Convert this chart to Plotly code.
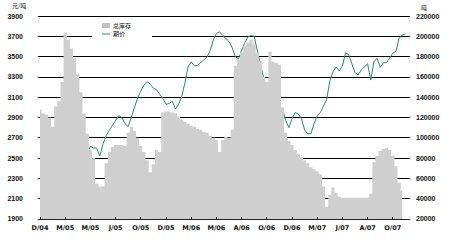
import plotly.graph_objects as go

# Weekly index positions and x tick labels
tick_labels = ["D/04", "M/05", "M/05", "J/05", "O/05", "D/05", "M/06", "M/06",
               "A/06", "O/06", "D/06", "M/07", "J/07", "A/07", "O/07"]
tick_step = 8
left_ticks = [1900, 2100, 2300, 2500, 2700, 2900, 3100, 3300, 3500, 3700, 3900]
right_ticks = [20000, 40000, 60000, 80000, 100000, 120000, 140000, 160000,
               180000, 200000, 220000]

# Futures price (元/吨), left axis
price = [2150, 2165, 2140, 2100, 2075, 2035, 2015, 2018, 2025, 2035,
         2068, 2120, 2180, 2290, 2415, 2550, 2615, 2600, 2600, 2520,
         2640, 2720, 2775, 2825, 2880, 2920, 2900, 2840, 2810, 2900,
         3010, 3095, 3160, 3220, 3255, 3230, 3190, 3175, 3130, 3090,
         3030, 3040, 3060, 2985, 3030, 3110, 3240, 3400, 3450, 3410,
         3415, 3440, 3465, 3495, 3560, 3665, 3730, 3745, 3710, 3682,
         3650, 3590, 3500, 3480, 3555, 3640, 3695, 3710, 3700, 3550,
         3420, 3295, 3170, 3040, 2950, 3000, 2990, 2990, 2870, 2800,
         2890, 2950, 2935, 2890, 2780, 2740, 2740, 2840, 2915, 2950,
         3015, 3075, 3260, 3350, 3400, 3360, 3410, 3540, 3520, 3440,
         3343, 3320, 3370, 3400, 3430, 3270, 3450, 3485, 3395, 3440,
         3442, 3485, 3535, 3555, 3680, 3715, 3722]

# Total inventory (吨), right axis, in thousands of tons
stock_k = [128, 124, 123, 120, 111, 131, 136, 155, 204, 197,
           188, 178, 163, 145, 124, 104, 88, 80, 55, 52,
           52, 75, 86, 91, 93, 93, 93, 92, 105, 111,
           107, 100, 92, 86, 78, 66, 74, 88, 86, 125,
           126, 126, 125, 124, 121, 118, 116, 114, 112, 111,
           109, 108, 106, 105, 102, 100, 98, 86, 98, 101,
           100, 108, 171, 177, 184, 190, 194, 197, 192, 183,
           176, 160, 155, 185, 175, 174, 172, 130, 105, 97,
           93, 88, 84, 81, 78, 75, 71, 69, 67, 64,
           52, 32, 44, 51, 46, 42, 41, 41, 41, 41,
           41, 41, 41, 41, 41, 45, 76, 82, 87, 89,
           90, 88, 82, 72, 56, 48]
stock = [v * 1000 for v in stock_k]

x = list(range(len(price)))
x_stock = list(range(len(stock)))
tickvals = [i * tick_step for i in range(len(tick_labels))]

# Layout geometry (pixels)
W, H = 450, 250
ML, MR, MT, MB = 38, 40, 5, 31
PW, PH = W - ML - MR, H - MT - MB


def px_x(p):
    return (p - ML) / PW


def px_y(p):
    return (H - MB - p) / PH


fig = go.Figure()
fig.add_trace(go.Scatter(
    x=x_stock, y=stock, name="总库存", yaxis="y2", mode="lines",
    line=dict(width=0, shape="hvh", color="#c4c4c4"),
    fill="tozeroy", fillcolor="#cccccc",
    fillpattern=dict(shape=".", fgcolor="#9a9a9a", bgcolor="#dedede",
                     size=2, solidity=0.5),
    showlegend=False,
))
fig.add_trace(go.Scatter(
    x=x, y=price, name="期价", mode="lines",
    line=dict(color="#2a8a70", width=1),
    showlegend=False,
))

tick_font_y = dict(family="Liberation Sans Narrow, Arial Narrow, Liberation Sans",
                   size=7, color="#111111", weight="bold")
tick_font_x = dict(family="DejaVu Sans", size=6.5, color="#111111", weight="bold")

fig.update_layout(
    width=W, height=H,
    margin=dict(l=ML, r=MR, t=MT, b=MB, pad=0),
    paper_bgcolor="white", plot_bgcolor="white",
    xaxis=dict(range=[-0.635, 117.46], tickmode="array", tickvals=tickvals,
               ticktext=tick_labels, showgrid=False, showline=True,
               linecolor="#222222", linewidth=1, ticks="inside", ticklen=2,
               tickcolor="#222222", tickfont=tick_font_x, zeroline=False,
               ticklabelstandoff=2),
    yaxis=dict(range=[1900, 4010], tickmode="array", tickvals=left_ticks,
               ticktext=[str(v) for v in left_ticks], showgrid=True,
               gridcolor="#000000", gridwidth=1, zeroline=False,
               tickfont=tick_font_y, ticks="", ticklabelstandoff=14,
               ticklabeloverflow="allow"),
    yaxis2=dict(range=[20000, 231000], tickmode="array", tickvals=right_ticks,
                ticktext=[str(v) for v in right_ticks], overlaying="y",
                side="right", showgrid=False, zeroline=False,
                tickfont=tick_font_y, ticks="", ticklabelstandoff=5,
                ticklabeloverflow="allow"),
    font=dict(family="Noto Sans CJK SC"),
)

cjk = dict(family="Noto Sans CJK SC", size=6, color="#111111")
legend_font = dict(family="Noto Sans CJK SC", size=6, color="#111111")

# legend background box and entries
fig.add_shape(type="rect", xref="paper", yref="paper",
              x0=px_x(92), x1=px_x(152), y0=px_y(42), y1=px_y(20),
              fillcolor="white", line=dict(width=0), layer="above")
fig.add_shape(type="rect", xref="paper", yref="paper",
              x0=px_x(102), x1=px_x(110), y0=px_y(28), y1=px_y(23),
              fillcolor="#c2c2c2", line=dict(width=0), layer="above")
fig.add_shape(type="line", xref="paper", yref="paper",
              x0=px_x(102), x1=px_x(110), y0=px_y(34), y1=px_y(34),
              line=dict(color="#2a8a70", width=1), layer="above")
fig.add_annotation(text="总库存", xref="paper", yref="paper",
                   x=px_x(111), y=px_y(25.5), xanchor="left", yanchor="middle",
                   showarrow=False, font=legend_font)
fig.add_annotation(text="期价", xref="paper", yref="paper",
                   x=px_x(111), y=px_y(34), xanchor="left", yanchor="middle",
                   showarrow=False, font=legend_font)

# axis unit labels
fig.add_annotation(text="元/吨", xref="paper", yref="paper",
                   x=px_x(10), y=px_y(6), xanchor="left", yanchor="middle",
                   showarrow=False, font=cjk)
fig.add_annotation(text="吨", xref="paper", yref="paper",
                   x=px_x(424), y=px_y(8), xanchor="center", yanchor="middle",
                   showarrow=False, font=cjk)

fig.write_html("out.html")
